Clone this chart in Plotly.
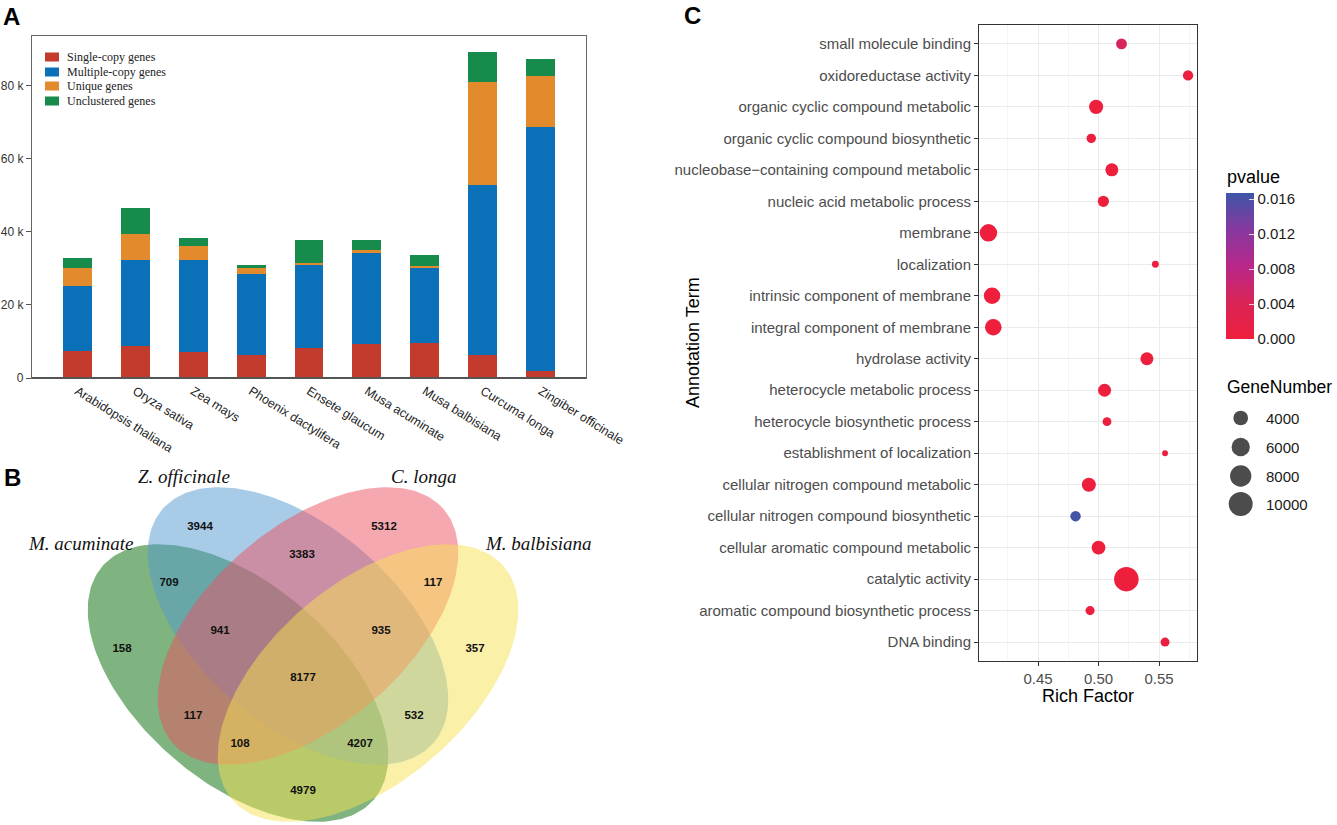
import numpy as np
import plotly.graph_objects as go

W, H = 1337, 825

# ---------------- Panel A data ----------------
species = ["Arabidopsis thaliana", "Oryza sativa", "Zea mays", "Phoenix dactylifera",
           "Ensete glaucum", "Musa acuminate", "Musa balbisiana", "Curcuma longa",
           "Zingiber officinale"]
single_copy = [7300, 8800, 7200, 6300, 8100, 9400, 9500, 6300, 1900]
multiple_copy = [17800, 23500, 25000, 22200, 22700, 24900, 20700, 46400, 66600]
unique_genes = [5100, 7200, 3800, 1500, 600, 800, 500, 28200, 14000]
unclustered = [2700, 6900, 2400, 800, 6200, 2700, 3000, 8100, 4600]
series_names = ["Single-copy genes", "Multiple-copy genes", "Unique genes", "Unclustered genes"]
y_tickvals_A = [0, 20000, 40000, 60000, 80000]
y_ticktext_A = ["0", "20 k", "40 k", "60 k", "80 k"]

# ---------------- Panel B data ----------------
venn_sets = ["M. acuminate", "Z. officinale", "C. longa", "M. balbisiana"]
venn_counts = [158, 3944, 5312, 357, 709, 3383, 117, 941, 935, 8177, 117, 532, 108, 4207, 4979]

# ---------------- Panel C data ----------------
terms = ["small molecule binding", "oxidoreductase activity",
         "organic cyclic compound metabolic", "organic cyclic compound biosynthetic",
         "nucleobase\u2212containing compound metabolic", "nucleic acid metabolic process",
         "membrane", "localization", "intrinsic component of membrane",
         "integral component of membrane", "hydrolase activity",
         "heterocycle metabolic process", "heterocycle biosynthetic process",
         "establishment of localization", "cellular nitrogen compound metabolic",
         "cellular nitrogen compound biosynthetic", "cellular aromatic compound metabolic",
         "catalytic activity", "aromatic compound biosynthetic process", "DNA binding"]
rich_factor = [0.519, 0.574, 0.498, 0.494, 0.511, 0.504, 0.409, 0.547, 0.412, 0.413,
               0.540, 0.505, 0.507, 0.555, 0.492, 0.481, 0.500, 0.523, 0.493, 0.555]
gene_number = [2300, 2100, 3750, 1800, 3200, 2450, 5500, 1050, 4950, 5000,
               3200, 3200, 1600, 800, 3700, 2150, 3550, 10400, 1700, 1650]
pvalue = [0.0047, 0.0003, 0.0001, 0.0004, 0.0001, 0.0002, 0.0001, 0.0006, 0.0001, 0.0001,
          0.0001, 0.0001, 0.0005, 0.0008, 0.0001, 0.0163, 0.0001, 0.0001, 0.0004, 0.0006]
size_legend_vals = [4000, 6000, 8000, 10000]
p_tickvals = [0, 0.004, 0.008, 0.012, 0.016]
p_ticktext = ["0.000", "0.004", "0.008", "0.012", "0.016"]
P_MAX = 0.0167


def px(x, y):
    return x / W, 1 - y / H


def size_scale(v):
    v = np.asarray(v, dtype=float)
    return 0.2527 * np.sqrt(v) - 1.28


fig = go.Figure()

# ---------------- Panel A: stacked bars ----------------
bar_colors = ["#C23B2C", "#0A71B8", "#E28A2C", "#178B4C"]
for name, vals, col in zip(series_names, [single_copy, multiple_copy, unique_genes, unclustered], bar_colors):
    fig.add_trace(go.Bar(x=species, y=vals, name=name, marker=dict(color=col, line=dict(width=0)),
                         width=0.5, xaxis="x", yaxis="y", showlegend=False))

# ---------------- Panel B: Venn ellipses ----------------
ell_a, ell_b, ell_phi = 179, 99, np.deg2rad(40.7)
ell_specs = [  # (cx, cy, orientation sign, fill)
    (238, 683, 1, "rgba(0,104,0,0.5)"),
    (298, 626, 1, "rgba(81,153,209,0.5)"),
    (308, 626, -1, "rgba(235,81,97,0.5)"),
    (368, 683, -1, "rgba(245,225,81,0.5)"),
]
t = np.linspace(0, 2 * np.pi, 240)
for (cx, cy, sgn, fc), nm in zip(ell_specs, venn_sets):
    phi = sgn * ell_phi
    ex = cx + ell_a * np.cos(t) * np.cos(phi) - ell_b * np.sin(t) * np.sin(phi)
    ey = cy + ell_a * np.cos(t) * np.sin(phi) + ell_b * np.sin(t) * np.cos(phi)
    fig.add_trace(go.Scatter(x=ex, y=ey, mode="lines", fill="toself", fillcolor=fc,
                             line=dict(width=0, color="rgba(0,0,0,0)"), name=nm,
                             xaxis="x2", yaxis="y2", showlegend=False, hoverinfo="skip"))

venn_label_pos = [(122, 649), (200, 527), (384, 527), (475, 649), (169, 583), (302, 555),
                  (433, 583), (220, 631), (381, 631), (303, 678), (193, 716), (414, 716),
                  (240, 744), (360, 744), (303, 791)]
fig.add_trace(go.Scatter(x=[p[0] for p in venn_label_pos], y=[p[1] for p in venn_label_pos],
                         mode="text", text=[str(c) for c in venn_counts],
                         textfont=dict(family="Arial, Liberation Sans", size=11.5, color="#111111"),
                         texttemplate="<b>%{text}</b>",
                         xaxis="x2", yaxis="y2", showlegend=False, hoverinfo="skip"))

# ---------------- Panel C: dot plot ----------------
colorscale = [[0.0, "#EE1F3C"], [0.25, "#DA2456"], [0.5, "#B8288A"], [0.75, "#86389F"], [1.0, "#3D56A7"]]
CB_X0, CB_X1, CB_TOP, CB_BOT = 1226, 1254, 193, 339
fig.add_trace(go.Scatter(
    x=rich_factor, y=terms, mode="markers", xaxis="x3", yaxis="y3", showlegend=False,
    marker=dict(size=size_scale(gene_number), color=pvalue, cmin=0, cmax=P_MAX,
                colorscale=colorscale, line=dict(width=0), opacity=1,
                colorbar=dict(x=CB_X0 / W, xanchor="left", y=1 - (CB_TOP + CB_BOT) / 2 / H, yanchor="middle",
                              len=CB_BOT - CB_TOP, lenmode="pixels", thickness=CB_X1 - CB_X0,
                              thicknessmode="pixels",
                              xpad=0, ypad=0, outlinewidth=0,
                              tickvals=p_tickvals, ticktext=p_ticktext, ticks="inside",
                              tickcolor="rgba(255,255,255,0.8)", ticklen=5, tickwidth=1,
                              tickfont=dict(family="Arial, Liberation Sans", size=15, color="#1a1a1a"))),
))

# size legend
fig.add_trace(go.Scatter(
    x=[1240.7] * 4, y=[418, 447, 476, 504], mode="markers", xaxis="x4", yaxis="y4",
    showlegend=False, hoverinfo="skip",
    marker=dict(size=size_scale(size_legend_vals), color="black", line=dict(width=0))))

axis_font = dict(family="Arial, Liberation Sans", size=15, color="#4d4d4d")
fig.update_layout(
    width=W, height=H, margin=dict(l=0, r=0, t=0, b=0, autoexpand=False),
    paper_bgcolor="white", plot_bgcolor="white", barmode="stack",
    font=dict(family="Arial, Liberation Sans"),
    xaxis=dict(domain=[32 / W, 586 / W], range=[-0.78, 8.78], anchor="y",
               showline=True, mirror=True, linecolor="#666666", linewidth=1.2,
               showgrid=False, ticks="", tickangle=32,
               tickfont=dict(family="Arial, Liberation Sans", size=12.5, color="#222222")),
    yaxis=dict(domain=[1 - 378 / H, 1 - 36 / H], range=[0, 93500], anchor="x",
               showline=True, mirror=True, linecolor="#666666", linewidth=1.2,
               showgrid=False, zeroline=False, ticks="outside", ticklen=5, tickcolor="#555555",
               tickvals=y_tickvals_A, ticktext=y_ticktext_A,
               tickfont=dict(family="Arial, Liberation Sans", size=12, color="#333333")),
    xaxis2=dict(domain=[0, 640 / W], range=[0, 640], anchor="y2", visible=False),
    yaxis2=dict(domain=[0, 385 / H], range=[825, 440], anchor="x2", visible=False),
    xaxis3=dict(domain=[979 / W, 1197 / W], range=[0.4012, 0.5814], anchor="y3",
                showline=True, mirror=True, linecolor="#333333", linewidth=1,
                showgrid=True, gridcolor="#ebebeb", gridwidth=1, zeroline=False,
                tick0=0.45, dtick=0.05, tickformat=".2f",
                minor=dict(showgrid=True, gridcolor="#f4f4f4", gridwidth=0.7, dtick=0.025, tick0=0.425),
                ticks="outside", ticklen=4, tickcolor="#333333", tickfont=axis_font),
    yaxis3=dict(domain=[1 - 661 / H, 1 - 25 / H], range=[-0.6, len(terms) - 0.4], anchor="x3",
                type="category", categoryorder="array", categoryarray=terms[::-1],
                showline=True, mirror=True, linecolor="#333333", linewidth=1,
                showgrid=True, gridcolor="#ebebeb", gridwidth=1.2, zeroline=False,
                ticks="outside", ticklen=4, tickcolor="#333333", tickfont=axis_font),
    xaxis4=dict(domain=[1200 / W, 1], range=[1200, 1337], anchor="y4", visible=False),
    yaxis4=dict(domain=[1 - 540 / H, 1 - 370 / H], range=[540, 370], anchor="x4", visible=False),
)

shapes = []
annotations = []

# thicker bottom axis line for panel A
x0, y0 = px(32, 378)
x1, _ = px(586, 378)
shapes.append(dict(type="line", xref="paper", yref="paper", x0=x0, x1=x1, y0=y0, y1=y0,
                   line=dict(color="#555555", width=2.2)))

# white tick marks at the left edge of the colour bar (ggplot style)
for v in p_tickvals:
    yy = CB_BOT - v / P_MAX * (CB_BOT - CB_TOP)
    a0, b0 = px(CB_X0, yy)
    a1, _ = px(CB_X0 + 5, yy)
    shapes.append(dict(type="line", xref="paper", yref="paper", x0=a0, x1=a1, y0=b0, y1=b0,
                       line=dict(color="rgba(255,255,255,0.8)", width=1)))

# panel A legend (manual)
leg_rows = [57, 72, 86, 101]
for name, col, yy in zip(series_names, bar_colors, leg_rows):
    a0, b0 = px(45, yy - 4.5)
    a1, b1 = px(59, yy + 4.5)
    shapes.append(dict(type="rect", xref="paper", yref="paper", x0=a0, x1=a1, y0=b1, y1=b0,
                       line=dict(width=0), fillcolor=col))
    tx, ty = px(65, yy)
    annotations.append(dict(text=name, x=tx, y=ty, xref="paper", yref="paper", showarrow=False,
                            xanchor="left", yanchor="middle",
                            font=dict(family="Times New Roman, Liberation Serif", size=12, color="#222222")))

# panel letters
for letter, (lx, ly) in zip(["A", "B", "C"], [(11, 16), (12, 478), (692, 15)]):
    tx, ty = px(lx, ly)
    annotations.append(dict(text="<b>%s</b>" % letter, x=tx, y=ty, xref="paper", yref="paper",
                            showarrow=False, xanchor="center", yanchor="middle",
                            font=dict(family="Arial, Liberation Sans", size=24, color="black")))

# Venn set names
venn_name_pos = [(80, 543), (184, 476), (423, 476), (538, 543)]
for nm, (vx, vy) in zip(venn_sets, venn_name_pos):
    annotations.append(dict(text="<i>%s</i>" % nm, x=vx, y=vy, xref="x2", yref="y2", showarrow=False,
                            xanchor="center", yanchor="middle",
                            font=dict(family="Times New Roman, Liberation Serif", size=19, color="#111111")))

# panel C axis titles
tx, ty = px(693, 343)
annotations.append(dict(text="Annotation Term", x=tx, y=ty, xref="paper", yref="paper", showarrow=False,
                        textangle=-90, xanchor="center", yanchor="middle",
                        font=dict(family="Arial, Liberation Sans", size=18, color="black")))
tx, ty = px(1088, 696)
annotations.append(dict(text="Rich Factor", x=tx, y=ty, xref="paper", yref="paper", showarrow=False,
                        xanchor="center", yanchor="middle",
                        font=dict(family="Arial, Liberation Sans", size=18, color="black")))

# legend titles & size labels
tx, ty = px(1225, 177)
annotations.append(dict(text="pvalue", x=tx, y=ty, xref="paper", yref="paper", showarrow=False,
                        xanchor="left", yanchor="middle",
                        font=dict(family="Arial, Liberation Sans", size=18, color="black")))
tx, ty = px(1225, 387)
annotations.append(dict(text="GeneNumber", x=tx, y=ty, xref="paper", yref="paper", showarrow=False,
                        xanchor="left", yanchor="middle",
                        font=dict(family="Arial, Liberation Sans", size=17.5, color="black")))
for v, yy in zip(size_legend_vals, [418, 447, 476, 504]):
    annotations.append(dict(text=str(v), x=1264, y=yy, xref="x4", yref="y4", showarrow=False,
                            xanchor="left", yanchor="middle",
                            font=dict(family="Arial, Liberation Sans", size=15, color="#1a1a1a")))

fig.update_layout(shapes=shapes, annotations=annotations)
fig.write_html("out.html", config={"displayModeBar": False},
               post_script="document.body.style.margin='0px';")
